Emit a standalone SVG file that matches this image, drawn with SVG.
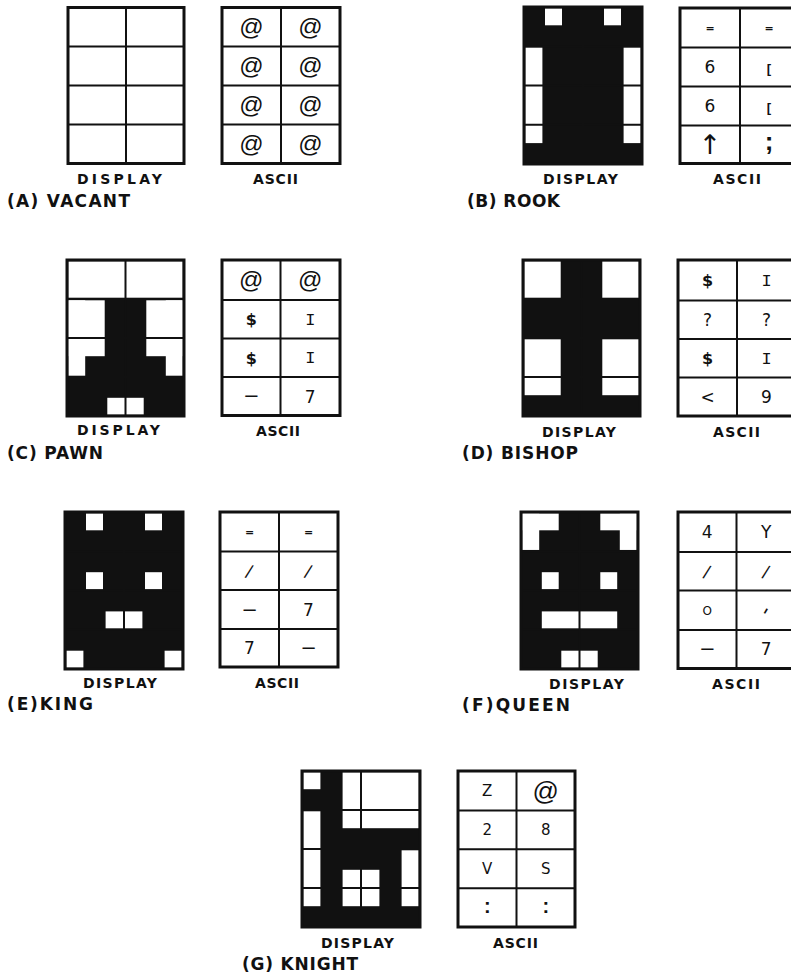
<svg xmlns="http://www.w3.org/2000/svg" width="791" height="974" viewBox="0 0 791 974">
<style>
.bg{fill:#fff}
.blk{fill:#111}
.wh{fill:#fff}
.grid{stroke:#111;stroke-width:2;fill:none}
.frame{stroke:#111;stroke-width:3;fill:none}
.lbl{font-family:"DejaVu Sans","Liberation Sans",sans-serif;font-weight:bold;font-size:14px;fill:#111}
.cap{font-family:"DejaVu Sans","Liberation Sans",sans-serif;font-weight:bold;font-size:17px;fill:#111}
.ch{font-family:"DejaVu Sans","Liberation Sans",sans-serif;font-size:17px;fill:#111;text-anchor:middle}
.at{font-family:"Liberation Sans",Arial,sans-serif;font-size:24px}
.at2{font-family:"Liberation Sans",Arial,sans-serif;font-size:26px}
.dl{font-weight:bold;font-size:16px}
.mono{font-family:"Liberation Mono","Courier New",monospace}
.eq{font-size:11px;font-weight:bold}
.sl{font-size:17px}
.da{font-family:"Liberation Sans",Arial,sans-serif;font-size:22px}
.ar{font-size:27px}
.sc{font-family:"Liberation Sans",Arial,sans-serif;font-size:26px;font-weight:bold}
.br{font-family:"Liberation Sans",Arial,sans-serif;font-size:13px;font-weight:bold}
.o{font-size:12px}
.g{font-size:15px}
.ap{font-size:20px}
.co{font-family:"Liberation Sans",Arial,sans-serif;font-size:20px;font-weight:bold}
</style>
<rect width="791" height="974" fill="#fff"/>

<!-- (A) VACANT -->
<g id="vacant">
  <g id="vacant-display">
    <rect class="bg" x="68" y="7.5" width="116" height="156"/>
    <path class="grid" d="M126 7.5V163.5M68 46.5H184M68 85.5H184M68 124.5H184"/>
    <rect class="frame" x="68" y="7.5" width="116" height="156"/>
  </g>
  <g id="vacant-ascii">
    <rect class="bg" x="222" y="7.5" width="118" height="156"/>
    <path class="grid" d="M281 7.5V163.5M222 46.5H340M222 85.5H340M222 124.5H340"/>
    <rect class="frame" x="222" y="7.5" width="118" height="156"/>
    <text class="ch at" x="251.5" y="35">@</text><text class="ch at" x="310.5" y="35">@</text>
    <text class="ch at" x="251.5" y="74">@</text><text class="ch at" x="310.5" y="74">@</text>
    <text class="ch at" x="251.5" y="113">@</text><text class="ch at" x="310.5" y="113">@</text>
    <text class="ch at" x="251.5" y="152">@</text><text class="ch at" x="310.5" y="152">@</text>
  </g>
  <text class="lbl" x="77" y="184" textLength="85" lengthAdjust="spacing">DISPLAY</text>
  <text class="lbl" x="253" y="184" textLength="45" lengthAdjust="spacing">ASCII</text>
  <text class="cap" x="7" y="207" textLength="123" lengthAdjust="spacing">(A) VACANT</text>
</g>

<!-- (B) ROOK -->
<g id="rook">
  <g id="rook-display">
    <rect class="blk" x="524" y="7" width="118" height="157"/>
    <rect class="wh" x="545" y="8.3" width="17" height="17"/>
    <rect class="wh" x="604" y="8.3" width="17" height="17"/>
    <rect class="wh" x="525.3" y="47.6" width="17.1" height="95.5"/>
    <rect class="wh" x="623.6" y="47.6" width="17.1" height="95.5"/>
    <path class="grid" d="M583 7V164M524 46.25H642M524 85.5H642M524 124.75H642"/>
    <rect class="frame" x="524" y="7" width="118" height="157"/>
  </g>
  <g id="rook-ascii">
    <rect class="bg" x="680" y="8" width="118" height="155.5"/>
    <path class="grid" d="M740 8V163.5M680 47.5H798M680 86.5H798M680 125.5H798"/>
    <rect class="frame" x="680" y="8" width="118" height="155.5"/>
    <text class="ch eq" x="710" y="31.5">=</text><text class="ch eq" x="769" y="31.5">=</text>
    <text class="ch" x="710" y="73.2">6</text><text class="ch br" x="769" y="73">[</text>
    <text class="ch" x="710" y="112.2">6</text><text class="ch br" x="769" y="112">[</text>
    <text class="ch ar" x="710" y="154">↑</text><text class="ch sc" x="769" y="150">;</text>
  </g>
  <text class="lbl" x="543" y="184" textLength="75" lengthAdjust="spacing">DISPLAY</text>
  <text class="lbl" x="713" y="184" textLength="48" lengthAdjust="spacing">ASCII</text>
  <text class="cap" x="467" y="207" textLength="93" lengthAdjust="spacing">(B) ROOK</text>
</g>

<!-- (C) PAWN -->
<g id="pawn">
  <g id="pawn-display">
    <rect class="blk" x="67" y="260" width="117" height="156"/>
    <rect class="wh" x="68.3" y="261.3" width="114.4" height="36.4"/>
    <rect class="wh" x="68.3" y="300.3" width="36.4" height="55.9"/>
    <rect class="wh" x="68.3" y="300.3" width="16.9" height="75.4"/>
    <rect class="wh" x="146.3" y="300.3" width="36.4" height="55.9"/>
    <rect class="wh" x="165.8" y="300.3" width="16.9" height="75.4"/>
    <rect class="wh" x="107.3" y="397.8" width="36.4" height="16.9"/>
    <path class="grid" d="M125.5 260V416M67 299H184M67 338H184M67 377H184"/>
    <rect class="frame" x="67" y="260" width="117" height="156"/>
  </g>
  <g id="pawn-ascii">
    <rect class="bg" x="222" y="260" width="118" height="155.5"/>
    <path class="grid" d="M280.5 260V415.5M222 300H340M222 338.5H340M222 377H340"/>
    <rect class="frame" x="222" y="260" width="118" height="155.5"/>
    <text class="ch at" x="251.25" y="288">@</text><text class="ch at" x="310.25" y="288">@</text>
    <text class="ch dl" x="251.25" y="325">$</text><text class="ch mono" x="310.25" y="324.9">I</text>
    <text class="ch dl" x="251.25" y="363.5">$</text><text class="ch mono" x="310.25" y="363.4">I</text>
    <text class="ch da" x="251.25" y="402.3">–</text><text class="ch" x="310.25" y="402.5">7</text>
  </g>
  <text class="lbl" x="77" y="435" textLength="83" lengthAdjust="spacing">DISPLAY</text>
  <text class="lbl" x="256" y="436" textLength="44" lengthAdjust="spacing">ASCII</text>
  <text class="cap" x="7" y="459" textLength="96" lengthAdjust="spacing">(C) PAWN</text>
</g>

<!-- (D) BISHOP -->
<g id="bishop">
  <g id="bishop-display">
    <rect class="blk" x="523" y="260" width="117" height="156"/>
    <rect class="wh" x="524.3" y="261.3" width="36.4" height="36.4"/>
    <rect class="wh" x="602.3" y="261.3" width="36.4" height="36.4"/>
    <rect class="wh" x="524.3" y="339.3" width="36.4" height="55.9"/>
    <rect class="wh" x="602.3" y="339.3" width="36.4" height="55.9"/>
    <path class="grid" d="M581.5 260V416M523 299H640M523 338H640M523 377H640"/>
    <rect class="frame" x="523" y="260" width="117" height="156"/>
  </g>
  <g id="bishop-ascii">
    <rect class="bg" x="678" y="260" width="118" height="156"/>
    <path class="grid" d="M737 260V416M678 300.5H796M678 339H796M678 377.5H796"/>
    <rect class="frame" x="678" y="260" width="118" height="156"/>
    <text class="ch dl" x="707.5" y="286">$</text><text class="ch mono" x="766.5" y="285.9">I</text>
    <text class="ch" x="707.5" y="326">?</text><text class="ch" x="766.5" y="326">?</text>
    <text class="ch dl" x="707.5" y="364">$</text><text class="ch mono" x="766.5" y="363.9">I</text>
    <text class="ch" x="707.5" y="402.8">&lt;</text><text class="ch" x="766.5" y="403">9</text>
  </g>
  <text class="lbl" x="542" y="437" textLength="74" lengthAdjust="spacing">DISPLAY</text>
  <text class="lbl" x="713" y="437" textLength="47" lengthAdjust="spacing">ASCII</text>
  <text class="cap" x="462" y="459" textLength="116" lengthAdjust="spacing">(D) BISHOP</text>
</g>

<!-- (E) KING -->
<g id="king">
  <g id="king-display">
    <rect class="blk" x="65" y="512" width="118" height="157"/>
    <rect class="wh" x="86" y="513.3" width="17" height="17"/>
    <rect class="wh" x="145" y="513.3" width="17" height="17"/>
    <rect class="wh" x="86" y="572.2" width="17" height="17"/>
    <rect class="wh" x="145" y="572.2" width="17" height="17"/>
    <rect class="wh" x="105.6" y="611.4" width="36.8" height="17"/>
    <rect class="wh" x="66.3" y="650.7" width="17.1" height="17"/>
    <rect class="wh" x="164.6" y="650.7" width="17.1" height="17"/>
    <path class="grid" d="M124 512V669M65 551.25H183M65 590.5H183M65 629.75H183"/>
    <rect class="frame" x="65" y="512" width="118" height="157"/>
  </g>
  <g id="king-ascii">
    <rect class="bg" x="220" y="512" width="118" height="155"/>
    <path class="grid" d="M279 512V667M220 551.5H338M220 590H338M220 629H338"/>
    <rect class="frame" x="220" y="512" width="118" height="155"/>
    <text class="ch eq" x="249.5" y="535.5">=</text><text class="ch eq" x="308.5" y="535.5">=</text>
    <text class="ch sl" x="249.5" y="577" transform="rotate(15 249.5 570.75)">/</text><text class="ch sl" x="308.5" y="577" transform="rotate(15 308.5 570.75)">/</text>
    <text class="ch da" x="249.5" y="615.5">–</text><text class="ch" x="308.5" y="615.7">7</text>
    <text class="ch" x="249.5" y="654.2">7</text><text class="ch da" x="308.5" y="654">–</text>
  </g>
  <text class="lbl" x="83" y="688" textLength="74" lengthAdjust="spacing">DISPLAY</text>
  <text class="lbl" x="255" y="688" textLength="44" lengthAdjust="spacing">ASCII</text>
  <text class="cap" x="7" y="710" textLength="86" lengthAdjust="spacing">(E)KING</text>
</g>

<!-- (F) QUEEN -->
<g id="queen">
  <g id="queen-display">
    <rect class="blk" x="521" y="512" width="117" height="157"/>
    <rect class="wh" x="522.3" y="513.3" width="36.4" height="17"/>
    <rect class="wh" x="522.3" y="513.3" width="16.9" height="36.65"/>
    <rect class="wh" x="600.3" y="513.3" width="36.4" height="17"/>
    <rect class="wh" x="619.8" y="513.3" width="16.9" height="36.65"/>
    <rect class="wh" x="541.8" y="572.2" width="16.9" height="17"/>
    <rect class="wh" x="600.3" y="572.2" width="16.9" height="17"/>
    <rect class="wh" x="541.8" y="611.4" width="75.4" height="17"/>
    <rect class="wh" x="561.3" y="650.7" width="36.4" height="17"/>
    <path class="grid" d="M579.5 512V669M521 551.25H638M521 590.5H638M521 629.75H638"/>
    <rect class="frame" x="521" y="512" width="117" height="157"/>
  </g>
  <g id="queen-ascii">
    <rect class="bg" x="678" y="512" width="118" height="156.5"/>
    <path class="grid" d="M736.5 512V668.5M678 552H796M678 590.5H796M678 630H796"/>
    <rect class="frame" x="678" y="512" width="118" height="156.5"/>
    <text class="ch" x="707.25" y="538.2">4</text><text class="ch" x="766.25" y="538.2">Y</text>
    <text class="ch sl" x="707.25" y="577.5" transform="rotate(15 707.25 571.25)">/</text><text class="ch sl" x="766.25" y="577.5" transform="rotate(15 766.25 571.25)">/</text>
    <text class="ch o" x="707.25" y="614.6">O</text><text class="ch ap" x="766.25" y="623" transform="rotate(30 766.25 610.25)">'</text>
    <text class="ch da" x="707.25" y="655.2">–</text><text class="ch" x="766.25" y="655.4">7</text>
  </g>
  <text class="lbl" x="549" y="689" textLength="75" lengthAdjust="spacing">DISPLAY</text>
  <text class="lbl" x="712" y="689" textLength="48" lengthAdjust="spacing">ASCII</text>
  <text class="cap" x="462" y="711" textLength="108" lengthAdjust="spacing">(F)QUEEN</text>
</g>

<!-- (G) KNIGHT -->
<g id="knight">
  <g id="knight-display">
    <rect class="blk" x="302" y="771" width="118" height="156"/>
    <rect class="wh" x="303.3" y="772.3" width="17.1" height="16.9"/>
    <rect class="wh" x="342.6" y="772.3" width="76.1" height="55.9"/>
    <rect class="wh" x="303.3" y="811.3" width="17.1" height="94.9"/>
    <rect class="wh" x="401.6" y="850.3" width="17.1" height="55.9"/>
    <rect class="wh" x="342.6" y="869.8" width="36.8" height="36.4"/>
    <path class="grid" d="M361 771V927M302 810H420M302 849H420M302 888H420"/>
    <rect class="frame" x="302" y="771" width="118" height="156"/>
  </g>
  <g id="knight-ascii">
    <rect class="bg" x="458" y="771" width="117" height="156"/>
    <path class="grid" d="M516.5 771V927M458 810.5H575M458 849.3H575M458 888.3H575"/>
    <rect class="frame" x="458" y="771" width="117" height="156"/>
    <text class="ch g" x="487.25" y="796.3">Z</text><text class="ch at2" x="545.75" y="799.5">@</text>
    <text class="ch g" x="487.25" y="835.4">2</text><text class="ch g" x="545.75" y="835.4">8</text>
    <text class="ch g" x="487.25" y="874.3">V</text><text class="ch g" x="545.75" y="874.3">S</text>
    <text class="ch co" x="487.25" y="912.8">:</text><text class="ch co" x="545.75" y="912.8">:</text>
  </g>
  <text class="lbl" x="321" y="948" textLength="73" lengthAdjust="spacing">DISPLAY</text>
  <text class="lbl" x="493" y="948" textLength="45" lengthAdjust="spacing">ASCII</text>
  <text class="cap" x="242" y="970" textLength="116" lengthAdjust="spacing">(G) KNIGHT</text>
</g>
</svg>
